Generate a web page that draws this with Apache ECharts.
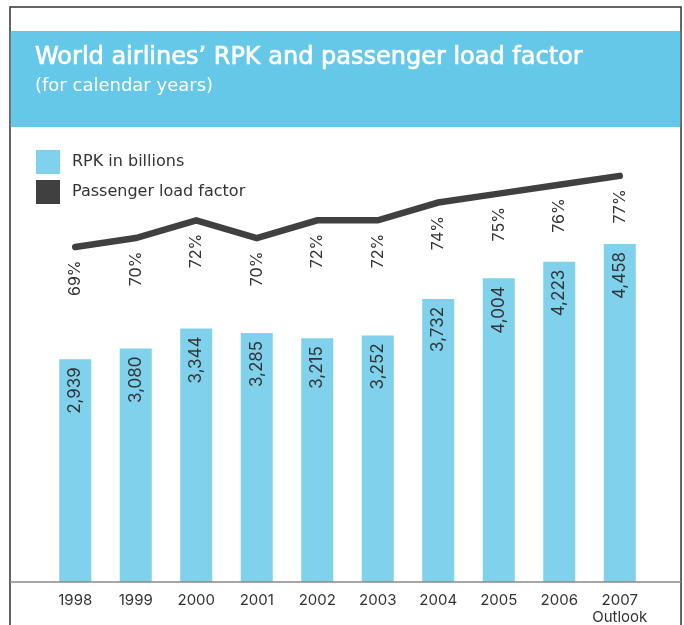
<!DOCTYPE html>
<html>
<head>
<meta charset="utf-8">
<script src="https://cdn.jsdelivr.net/npm/echarts@6/dist/echarts.min.js"></script>
<style>
  html, body { margin: 0; padding: 0; background: #fff; }
  #chart { width: 684px; height: 625px; }
</style>
</head>
<body>
<div id="chart"></div>
<script>
// Years shown on the category axis (2007 is an outlook figure)
const years = ['1998', '1999', '2000', '2001', '2002', '2003', '2004', '2005', '2006', '2007\nOutlook'];
// Revenue passenger kilometres, billions
const rpk = [2939, 3080, 3344, 3285, 3215, 3252, 3732, 4004, 4223, 4458];
// Passenger load factor, percent
const loadFactor = [69, 70, 72, 70, 72, 72, 74, 75, 76, 77];

const FONT = 'Inter, "Noto Sans", sans-serif';
const WIDE = '"DejaVu Sans", Inter, sans-serif';
const TEXT = '#333333';
const BAR = '#80d1ec';
const LINE = '#404040';
const BAND = '#66c8e8';

const chart = echarts.init(document.getElementById('chart'), null, { renderer: 'canvas' });

const gridBottom = 43;

chart.setOption({
  animation: false,
  backgroundColor: '#ffffff',
  textStyle: { fontFamily: FONT },
  graphic: [
    // outer frame
    { type: 'rect', z: -10, shape: { x: 10, y: 7, width: 671, height: 700 },
      style: { fill: '#ffffff', stroke: '#333333', lineWidth: 1.5 } },
    // header band
    { type: 'rect', z: -5, shape: { x: 10.75, y: 31, width: 669.5, height: 96 },
      style: { fill: BAND } },
    // baseline across the frame
    { type: 'line', z: 10, shape: { x1: 10, y1: 625 - gridBottom, x2: 681, y2: 625 - gridBottom },
      style: { stroke: '#8a8a8a', lineWidth: 1.5 } }
  ],
  title: {
    left: 35,
    top: 46,
    padding: 0,
    itemGap: 7,
    text: 'World airlines\u2019 RPK and passenger load factor',
    subtext: '(for calendar years)',
    textStyle: {
      color: '#ffffff', fontSize: 24, fontWeight: 'normal', fontFamily: WIDE,
      textBorderColor: '#ffffff', textBorderWidth: 0.7
    },
    subtextStyle: { color: '#ffffff', fontSize: 18, fontWeight: 'normal', fontFamily: WIDE }
  },
  legend: {
    orient: 'vertical',
    left: 36,
    top: 150,
    padding: 0,
    itemWidth: 24,
    itemHeight: 24,
    itemGap: 6,
    icon: 'rect',
    textStyle: { color: TEXT, fontSize: 16, fontFamily: WIDE, padding: [0, 0, 0, 7] },
    data: ['RPK in billions', 'Passenger load factor']
  },
  grid: { left: 45, right: 34, top: 127, bottom: gridBottom, containLabel: false, outerBoundsMode: 'none' },
  xAxis: {
    type: 'category',
    data: years,
    axisLine: { show: false },
    axisTick: { show: false },
    axisLabel: { interval: 0, color: TEXT, fontSize: 15, margin: 10, lineHeight: 17, fontFamily: FONT }
  },
  yAxis: [
    { type: 'value', min: 0, max: 6000, show: false, splitLine: { show: false } },
    { type: 'value', min: 31.3, max: 82.5, show: false, splitLine: { show: false } }
  ],
  series: [
    {
      name: 'RPK in billions',
      type: 'bar',
      data: rpk,
      barWidth: 32,
      itemStyle: { color: BAR },
      label: {
        show: true,
        position: 'insideTop',
        distance: 8,
        rotate: 90,
        align: 'right',
        verticalAlign: 'middle',
        color: TEXT,
        fontSize: 17,
        fontFamily: FONT,
        formatter: p => p.value.toLocaleString('en-US')
      }
    },
    {
      name: 'Passenger load factor',
      type: 'line',
      yAxisIndex: 1,
      data: loadFactor,
      z: 5,
      symbol: 'circle',
      symbolSize: 1,
      showSymbol: true,
      itemStyle: { color: LINE },
      lineStyle: { color: LINE, width: 6.5, cap: 'round', join: 'miter' },
      label: {
        show: true,
        position: 'bottom',
        distance: 13,
        rotate: 90,
        align: 'right',
        verticalAlign: 'middle',
        color: TEXT,
        fontSize: 16,
        fontFamily: FONT,
        formatter: p => p.value + '%'
      }
    }
  ]
});
</script>
</body>
</html>
